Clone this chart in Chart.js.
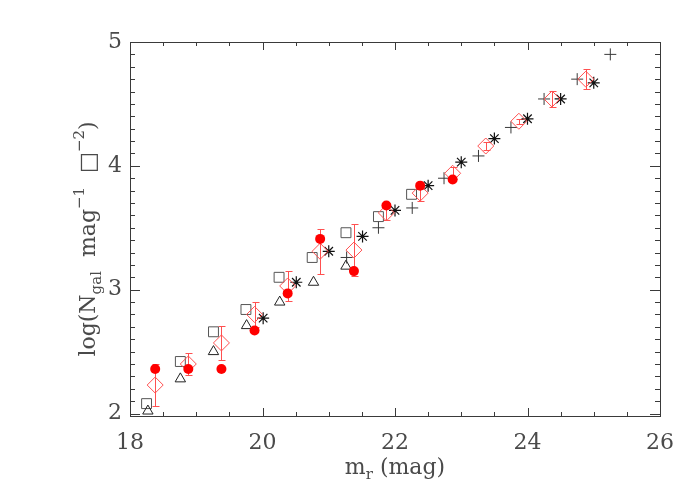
<!DOCTYPE html>
<html>
<head>
<meta charset="utf-8">
<script src="https://cdn.jsdelivr.net/npm/chart.js@4.4.1/dist/chart.umd.min.js"></script>
<style>
  html, body { margin: 0; padding: 0; background: #fff; }
  #wrap { width: 700px; height: 500px; }
</style>
</head>
<body>
<div id="wrap"><canvas id="c" width="700" height="500"></canvas></div>
<script>
// Galaxy number counts.
var squareX = [18.25, 18.76, 19.26, 19.75, 20.25, 20.75, 21.26, 21.75, 22.25];
var squareY = [2.08, 2.42, 2.66, 2.84, 3.10, 3.26, 3.46, 3.59, 3.77];

var triangleX = [18.27, 18.76, 19.26, 19.76, 20.26, 20.77, 21.26];
var triangleY = [2.02, 2.28, 2.50, 2.71, 2.90, 3.06, 3.19];

var plusX = [21.27, 21.75, 22.26, 22.74, 23.26, 23.75, 24.25, 24.75, 25.25];
var plusY = [3.26, 3.50, 3.66, 3.90, 4.08, 4.31, 4.54, 4.70, 4.90];

var starX = [20.01, 20.51, 21.00, 21.51, 22.00, 22.50, 23.00, 23.50, 24.00, 24.50, 25.00];
var starY = [2.77, 3.06, 3.31, 3.43, 3.64, 3.84, 4.03, 4.22, 4.38, 4.54, 4.67];

var dotX = [18.38, 18.88, 19.38, 19.88, 20.38, 20.87, 21.38, 21.87, 22.38, 22.87];
var dotY = [2.36, 2.36, 2.36, 2.67, 2.97, 3.41, 3.15, 3.68, 3.84, 3.89];

var diamondX = [18.38, 18.88, 19.38, 19.88, 20.38, 20.87, 21.38, 21.87, 22.38, 22.87, 23.37, 23.87, 24.37, 24.88];
var diamondY = [2.23, 2.40, 2.57, 2.80, 3.03, 3.31, 3.32, 3.62, 3.78, 3.94, 4.16, 4.36, 4.54, 4.70];
var diamondErr = [0.17, 0.09, 0.14, 0.10, 0.12, 0.18, 0.21, 0.06, 0.06, 0.05, 0.03, 0.02, 0.065, 0.08];

var xTicks = [18, 20, 22, 24, 26];
var yTicks = [2, 3, 4, 5];

var INK = '#3a3a3a';
var TEXT = '#4a4a4a';
var RED = '#ff0000';
var PINK = '#ff5050';
var FONT = '"DejaVu Serif", "Liberation Serif", serif';

function pts(xs, ys) {
  return xs.map(function (x, i) { return { x: x, y: ys[i] }; });
}

// error bars under the diamonds
var errorBars = {
  id: 'errorBars',
  beforeDatasetsDraw: function (chart) {
    var ctx = chart.ctx, xs = chart.scales.x, ys = chart.scales.y;
    ctx.save();
    ctx.strokeStyle = PINK;
    ctx.lineWidth = 1;
    ctx.beginPath();
    diamondX.forEach(function (x, i) {
      var px = Math.round(xs.getPixelForValue(x)) + 0.5;
      var top = Math.round(ys.getPixelForValue(diamondY[i] + diamondErr[i])) + 0.5;
      var bot = Math.round(ys.getPixelForValue(diamondY[i] - diamondErr[i])) + 0.5;
      ctx.moveTo(px, top); ctx.lineTo(px, bot);
      ctx.moveTo(px - 3, top); ctx.lineTo(px + 4, top);
      ctx.moveTo(px - 3, bot); ctx.lineTo(px + 4, bot);
    });
    ctx.stroke();
    ctx.restore();
  }
};

// box frame with inward ticks on all four sides
var frameTicks = {
  id: 'frameTicks',
  afterDraw: function (chart) {
    var ctx = chart.ctx, a = chart.chartArea, xs = chart.scales.x, ys = chart.scales.y;
    ctx.save();
    ctx.strokeStyle = INK;
    ctx.lineWidth = 1;
    ctx.strokeRect(Math.round(a.left) + 0.5, Math.round(a.top) + 0.5,
                   Math.round(a.right - a.left), Math.round(a.bottom - a.top));
    ctx.beginPath();
    var i, v, p, len;
    for (i = 36; i <= 52; i++) {          // x every 0.5 mag
      v = i / 2;
      p = Math.round(xs.getPixelForValue(v)) + 0.5;
      len = (i % 4 === 0) ? 8 : 4;
      ctx.moveTo(p, a.bottom); ctx.lineTo(p, a.bottom - len);
      ctx.moveTo(p, a.top); ctx.lineTo(p, a.top + len);
    }
    for (i = 20; i <= 50; i++) {          // y every 0.1 dex
      v = i / 10;
      p = Math.round(ys.getPixelForValue(v)) + 0.5;
      len = (i % 10 === 0) ? 10 : 5;
      ctx.moveTo(a.left, p); ctx.lineTo(a.left + len, p);
      ctx.moveTo(a.right, p); ctx.lineTo(a.right - len, p);
    }
    ctx.stroke();
    ctx.restore();
  }
};

// axis titles with sub/superscripts
function drawRich(ctx, parts, cx, baseY) {
  var total = 0;
  parts.forEach(function (s) {
    ctx.font = s.size + 'px ' + FONT;
    s.w = ctx.measureText(s.t).width;
    total += s.w;
  });
  var x = cx - total / 2;
  parts.forEach(function (s) {
    ctx.font = s.size + 'px ' + FONT;
    ctx.fillText(s.t, x, baseY + (s.dy || 0));
    x += s.w;
  });
}

var axisTitles = {
  id: 'axisTitles',
  afterDraw: function (chart) {
    var ctx = chart.ctx, a = chart.chartArea;
    ctx.save();
    ctx.fillStyle = TEXT;
    ctx.textAlign = 'left';
    ctx.textBaseline = 'alphabetic';
    drawRich(ctx, [
      { t: 'm', size: 22 },
      { t: 'r', size: 15, dy: 5 },
      { t: ' (mag)', size: 22 }
    ], (a.left + a.right) / 2, 474);

    ctx.translate(95, (a.top + a.bottom) / 2 + 10);
    ctx.rotate(-Math.PI / 2);
    drawRich(ctx, [
      { t: 'log(N', size: 22 },
      { t: 'gal', size: 15, dy: 6 },
      { t: '  mag', size: 22 },
      { t: '\u22121', size: 15, dy: -11 },
      { t: '  \u25A1', size: 22 },
      { t: '\u22122', size: 15, dy: -11 },
      { t: ')', size: 22 }
    ], 0, 0);
    ctx.restore();
  }
};

new Chart(document.getElementById('c'), {
  type: 'scatter',
  data: {
    datasets: [
      { label: 'dots', data: pts(dotX, dotY), pointStyle: 'circle', pointRadius: 5,
        backgroundColor: RED, borderColor: RED, borderWidth: 0, clip: false },
      { label: 'diamonds', data: pts(diamondX, diamondY), pointStyle: 'rectRot', pointRadius: 8,
        backgroundColor: 'rgba(0,0,0,0)', borderColor: PINK, borderWidth: 1, clip: false },
      { label: 'stars', data: pts(starX, starY), pointStyle: 'star', pointRadius: 6,
        backgroundColor: '#000', borderColor: '#111', borderWidth: 1.2, clip: false },
      { label: 'plus', data: pts(plusX, plusY), pointStyle: 'cross', pointRadius: 6,
        backgroundColor: INK, borderColor: INK, borderWidth: 1, clip: false },
      { label: 'triangles', data: pts(triangleX, triangleY), pointStyle: 'triangle', pointRadius: 6,
        backgroundColor: 'rgba(0,0,0,0)', borderColor: '#222', borderWidth: 1, clip: false },
      { label: 'squares', data: pts(squareX, squareY), pointStyle: 'rect', pointRadius: 7,
        backgroundColor: 'rgba(0,0,0,0)', borderColor: '#555', borderWidth: 1, clip: false }
    ]
  },
  options: {
    responsive: false,
    animation: false,
    devicePixelRatio: 1,
    layout: { padding: { top: 42, right: 40, left: 0, bottom: 0 } },
    plugins: { legend: { display: false }, tooltip: { enabled: false } },
    scales: {
      x: {
        type: 'linear', min: 18, max: 26,
        afterBuildTicks: function (s) { s.ticks = xTicks.map(function (v) { return { value: v }; }); },
        afterFit: function (s) { s.height = 84; },
        grid: { display: false, drawTicks: false },
        border: { display: false },
        ticks: { autoSkip: false, maxRotation: 0, padding: 14, color: TEXT,
                 font: { family: FONT, size: 22 } }
      },
      y: {
        type: 'linear', min: 1.98, max: 5,
        afterBuildTicks: function (s) { s.ticks = yTicks.map(function (v) { return { value: v }; }); },
        afterFit: function (s) { s.width = 130; },
        grid: { display: false, drawTicks: false },
        border: { display: false },
        ticks: { autoSkip: false, padding: 8, color: TEXT,
                 font: { family: FONT, size: 22 } }
      }
    }
  },
  plugins: [errorBars, frameTicks, axisTitles]
});
</script>
</body>
</html>
